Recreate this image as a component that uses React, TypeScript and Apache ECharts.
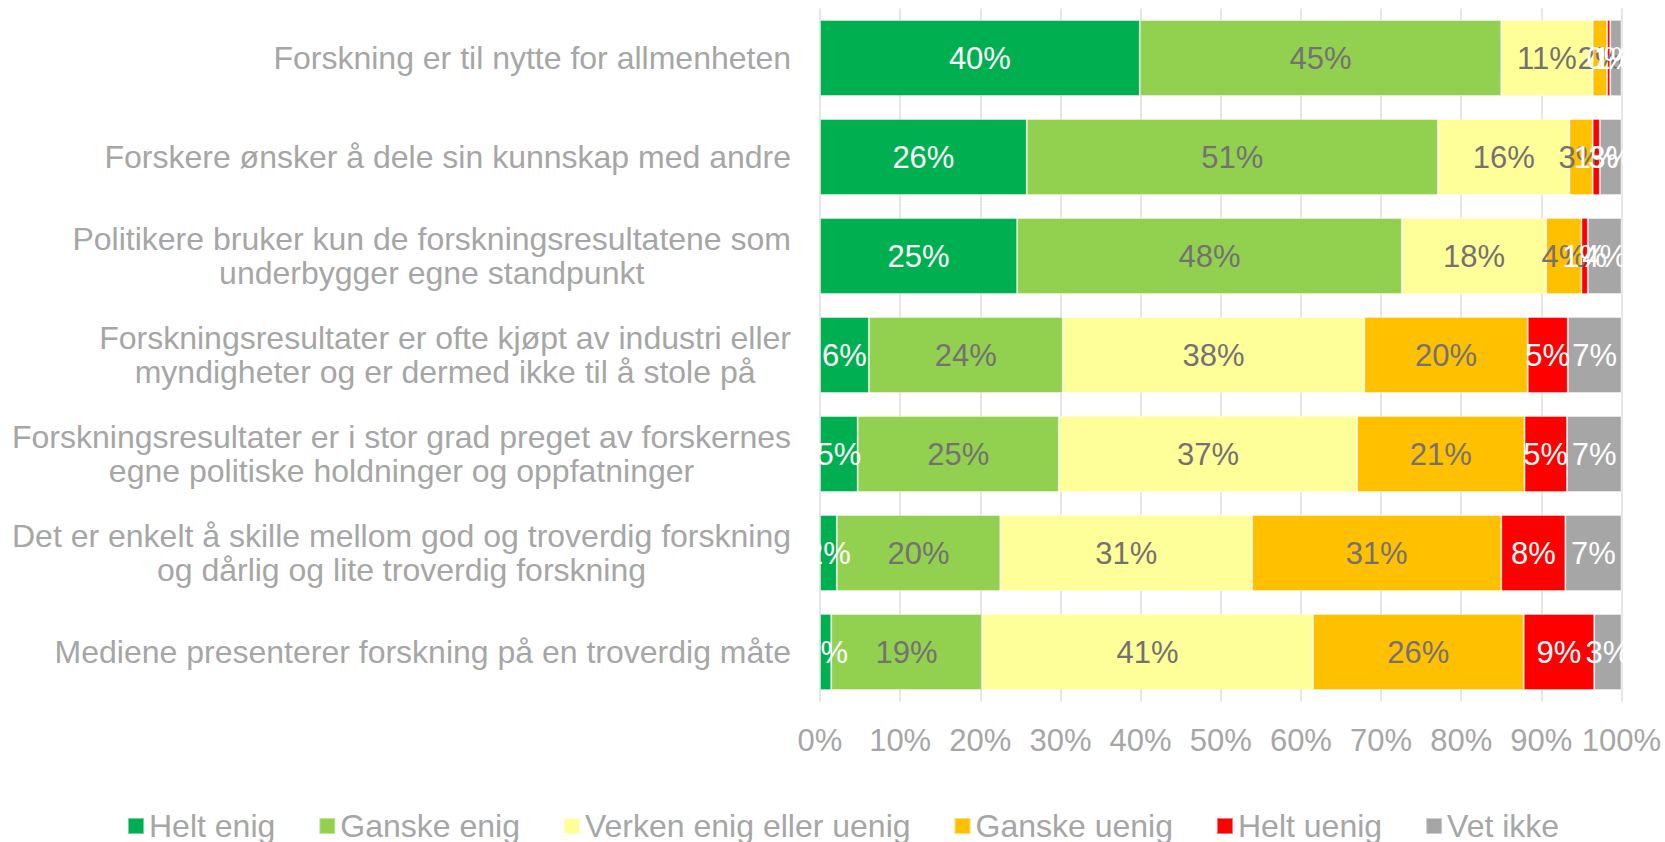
import React, { useEffect, useRef } from "react";
import * as echarts from "echarts";

const categories: string[] = [
  "Forskning er til nytte for allmenheten",
  "Forskere ønsker å dele sin kunnskap med andre",
  "Politikere bruker kun de forskningsresultatene som\nunderbygger egne standpunkt",
  "Forskningsresultater er ofte kjøpt av industri eller\nmyndigheter og er dermed ikke til å stole på",
  "Forskningsresultater er i stor grad preget av forskernes\negne politiske holdninger og oppfatninger",
  "Det er enkelt å skille mellom god og troverdig forskning\nog dårlig og lite troverdig forskning",
  "Mediene presenterer forskning på en troverdig måte",
];

const seriesNames: string[] = [
  "Helt enig",
  "Ganske enig",
  "Verken enig eller uenig",
  "Ganske uenig",
  "Helt uenig",
  "Vet ikke",
];

const heltEnig: number[] = [39.9, 25.8, 24.6, 6.1, 4.7, 2.1, 1.4];
const ganskeEnig: number[] = [45.1, 51.3, 48.0, 24.2, 25.1, 20.4, 18.8];
const verken: number[] = [11.4, 16.4, 18.0, 37.6, 37.2, 31.4, 41.3];
const ganskeUenig: number[] = [1.8, 2.9, 4.4, 20.4, 20.9, 31.1, 26.3];
const heltUenig: number[] = [0.4, 0.9, 0.8, 5.0, 5.3, 8.0, 8.8];
const vetIkke: number[] = [1.4, 2.7, 4.2, 6.7, 6.8, 7.0, 3.4];

const seriesValues: number[][] = [heltEnig, ganskeEnig, verken, ganskeUenig, heltUenig, vetIkke];
const seriesColors: string[] = ["#00B050", "#92D050", "#FFFF99", "#FFC000", "#FF0000", "#A6A6A6"];
const labelColors: string[] = ["#FFFFFF", "#767171", "#767171", "#767171", "#FFFFFF", "#FFFFFF"];

const xTicks: number[] = [0, 10, 20, 30, 40, 50, 60, 70, 80, 90, 100];

const W = 1665;
const H = 842;
const GRID_LEFT = 820;
const GRID_RIGHT = 43.5;
const GRID_TOP = 8.5;
const GRID_BOTTOM = 140.5;
const FONT = "'Liberation Sans', Arial, sans-serif";
const TEXT_GRAY = "#A6A6A6";

export default function App() {
  const ref = useRef<HTMLDivElement>(null);

  useEffect(() => {
    if (!ref.current) return;
    const chart = echarts.init(ref.current, undefined, { renderer: "svg" });
    const plotBottom = H - GRID_BOTTOM;
    const option: any = {
      animation: false,
      backgroundColor: "#FFFFFF",
      textStyle: { fontFamily: FONT },
      grid: { left: GRID_LEFT, right: GRID_RIGHT, top: GRID_TOP, bottom: GRID_BOTTOM, containLabel: false },
      legend: {
        data: seriesNames,
        left: 127,
        top: 810,
        padding: 0,
        icon: "rect",
        itemWidth: 16,
        itemHeight: 16,
        itemGap: 43,
        textStyle: { fontSize: 32, color: TEXT_GRAY, fontFamily: FONT },
      },
      xAxis: {
        type: "value",
        min: 0,
        max: 100,
        interval: 10,
        axisLine: { show: false },
        axisTick: { show: false },
        splitLine: { show: true, lineStyle: { color: "#E6E6E6", width: 2 } },
        axisLabel: {
          fontSize: 31,
          color: TEXT_GRAY,
          fontFamily: FONT,
          margin: 23,
          formatter: (v: number) => (xTicks.indexOf(v) >= 0 ? `${v}%` : ""),
        },
      },
      yAxis: {
        type: "category",
        data: categories,
        inverse: true,
        axisLine: { show: false },
        axisTick: { show: false },
        axisLabel: {
          interval: 0,
          margin: 29,
          fontSize: 32,
          color: TEXT_GRAY,
          fontFamily: FONT,
          lineHeight: 34,
          formatter: (v: string) =>
            v
              .split("\n")
              .map((l) => `{c|${l}}`)
              .join("\n"),
          rich: {
            c: { align: "center", fontSize: 32, color: TEXT_GRAY, fontFamily: FONT, lineHeight: 34 },
          },
        },
      },
      graphic: [
        {
          type: "rect",
          z: 100,
          shape: { x: GRID_LEFT - 26, y: 0, width: 25, height: plotBottom },
          style: { fill: "#FFFFFF" },
          silent: true,
        },
        {
          type: "rect",
          z: 100,
          shape: { x: W - GRID_RIGHT + 1.5, y: 0, width: GRID_RIGHT, height: plotBottom },
          style: { fill: "#FFFFFF" },
          silent: true,
        },
      ],
      series: seriesNames.map((name, i) => ({
        name,
        type: "bar",
        stack: "total",
        barCategoryGap: "23%",
        data: seriesValues[i],
        itemStyle: {
          color: seriesColors[i],
          borderColor: "rgba(255,255,255,0.45)",
          borderWidth: 1,
        },
        label: {
          show: true,
          position: "inside",
          fontSize: 31,
          fontFamily: FONT,
          color: labelColors[i],
          formatter: (p: any) => `${Math.round(p.value)}%`,
        },
      })),
    };
    chart.setOption(option);
    return () => chart.dispose();
  }, []);

  return (
    <div
      ref={ref}
      style={{ position: "fixed", left: 0, top: 0, width: W, height: H, background: "#FFFFFF" }}
    />
  );
}
